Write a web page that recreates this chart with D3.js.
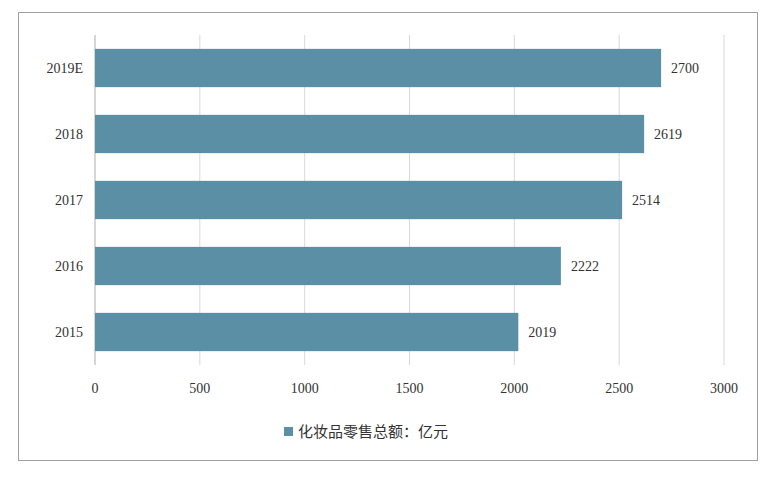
<!DOCTYPE html>
<html><head><meta charset="utf-8">
<script src="https://cdn.jsdelivr.net/npm/d3@7"></script>
<style>body{margin:0;background:#fff}</style>
</head><body>
<svg id="c" width="774" height="478"></svg>
<script>
const categories = ["2019E","2018","2017","2016","2015"];
const values = [2700,2619,2514,2222,2019];
const ticks = [0,500,1000,1500,2000,2500,3000];
const legendLabel = "化妆品零售总额：亿元";

const svg = d3.select("#c");
svg.append("rect").attr("x",18.5).attr("y",12.5).attr("width",739).attr("height",448)
  .attr("fill","#fff").attr("stroke","#a0a0a0");
const x = d3.scaleLinear().domain([0,3000]).range([95,724]);
const y = d3.scaleBand().domain(categories).range([35,365]).paddingInner(0.42).paddingOuter(0.21);
const numFont = "'Liberation Serif','DejaVu Serif',serif";

svg.append("g").selectAll("line").data(ticks).join("line")
  .attr("x1",d=>x(d)).attr("x2",d=>x(d)).attr("y1",35).attr("y2",365)
  .attr("stroke","#d9d9d9");
svg.append("line").attr("x1",x(0)).attr("x2",x(0)).attr("y1",35).attr("y2",365).attr("stroke","#bfbfbf");

svg.append("g").selectAll("rect").data(values).join("rect")
  .attr("x",x(0)).attr("y",(d,i)=>y(categories[i])).attr("height",y.bandwidth())
  .attr("width",d=>x(d)-x(0)).attr("fill","#5b8fa5");

svg.append("g").selectAll("text").data(values).join("text")
  .attr("x",d=>x(d)+10).attr("y",(d,i)=>y(categories[i])+y.bandwidth()/2+5)
  .attr("font-family",numFont).attr("font-size",14).attr("fill","#333").text(d=>d);

svg.append("g").selectAll("text").data(categories).join("text")
  .attr("x",83).attr("y",d=>y(d)+y.bandwidth()/2+5).attr("text-anchor","end")
  .attr("font-family",numFont).attr("font-size",14).attr("fill","#333").text(d=>d);

svg.append("g").selectAll("text").data(ticks).join("text")
  .attr("x",d=>x(d)).attr("y",393).attr("text-anchor","middle")
  .attr("font-family",numFont).attr("font-size",14).attr("fill","#333").text(d=>d);

svg.append("rect").attr("x",284).attr("y",427).attr("width",9).attr("height",9).attr("fill","#5b8fa5");
svg.append("text").attr("x",298).attr("y",437).attr("font-family","'Noto Sans CJK SC',sans-serif")
  .attr("font-size",15).attr("fill","#333").text(legendLabel);
</script>
</body></html>
